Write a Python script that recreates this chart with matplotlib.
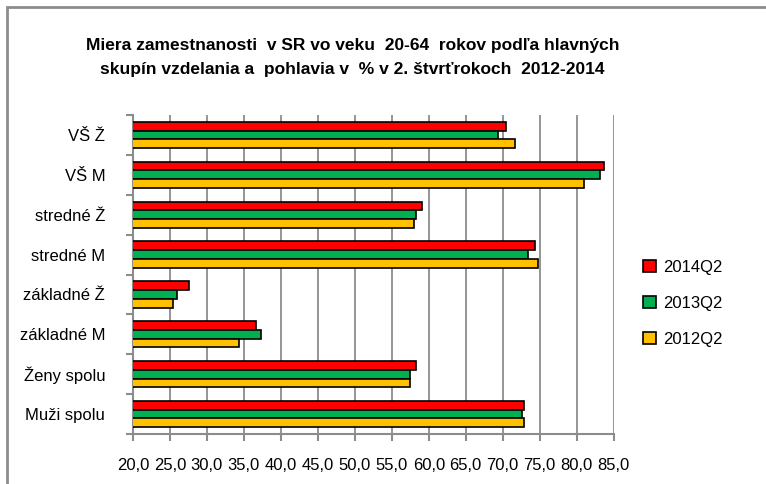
import numpy as np
import matplotlib.pyplot as plt
from matplotlib.patches import Rectangle
from matplotlib.ticker import FuncFormatter

plt.rcParams['font.family'] = ['Liberation Sans', 'DejaVu Sans']

categories = ['Muži spolu', 'Ženy spolu', 'základné M', 'základné Ž',
              'stredné M', 'stredné Ž', 'VŠ M', 'VŠ Ž']
q2014 = [72.9, 58.3, 36.7, 27.6, 74.3, 59.1, 83.7, 70.5]
q2013 = [72.6, 57.5, 37.3, 25.9, 73.4, 58.3, 83.2, 69.3]
q2012 = [72.9, 57.5, 34.3, 25.4, 74.8, 58.0, 81.0, 71.6]
xticks = np.arange(20, 86, 5)

fig = plt.figure(figsize=(7.66, 4.84), dpi=100)
ax = fig.add_axes([0.1736, 0.1033, 0.6275, 0.659])

# grey outer frame (cropped at right/bottom like the source image)
fig.patches.append(Rectangle((7 / 766, -0.1), 1.2, 1 - 7 / 484 + 0.1,
                             transform=fig.transFigure, fill=False,
                             edgecolor='#8c8c8c', linewidth=2))

y = np.arange(len(categories))
h = 0.22
ax.barh(y + h, q2014, height=h, color='#ff0000', edgecolor='black', linewidth=1.2, label='2014Q2', zorder=3)
ax.barh(y, q2013, height=h, color='#00b050', edgecolor='black', linewidth=1.2, label='2013Q2', zorder=3)
ax.barh(y - h, q2012, height=h, color='#ffc000', edgecolor='black', linewidth=1.2, label='2012Q2', zorder=3)

ax.set_xlim(20, 85)
ax.set_ylim(-0.5, len(categories) - 0.5)
ax.set_xticks(xticks)
ax.xaxis.set_major_formatter(FuncFormatter(lambda v, p: f'{v:.1f}'.replace('.', ',')))
ax.tick_params(axis='x', length=5, color='#8c8c8c', width=1.5, labelsize=12, pad=12)
ax.grid(axis='x', color='#8c8c8c', linewidth=1.3, zorder=0)

ax.set_yticks(y)
ax.set_yticklabels(categories)
ax.set_yticks(np.arange(-0.5, len(categories)), minor=True)
ax.tick_params(axis='y', which='major', length=0, labelsize=12, pad=20)
ax.tick_params(axis='y', which='minor', length=5, color='#8c8c8c', width=1.5)

for s in ['top', 'right']:
    ax.spines[s].set_visible(False)
for s in ['left', 'bottom']:
    ax.spines[s].set_color('#8c8c8c')
    ax.spines[s].set_linewidth(1.5)

fig.text(0.46, 0.882, 'Miera zamestnanosti  v SR vo veku  20-64  rokov podľa hlavných\n'
         'skupín vzdelania a  pohlavia v  % v 2. štvrťrokoch  2012-2014',
         ha='center', va='center', fontsize=12.5, fontweight='bold', linespacing=1.75)

ax.legend(loc='center left', bbox_to_anchor=(1.03, 0.41), frameon=False, fontsize=12,
          handlelength=0.8, handleheight=0.8, handletextpad=0.4, labelspacing=1.25)

fig.savefig('out.png', dpi=100)
